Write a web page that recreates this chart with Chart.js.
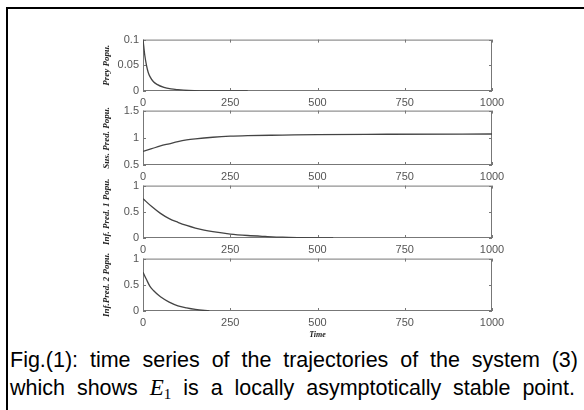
<!DOCTYPE html>
<html>
<head>
<meta charset="utf-8">
<script src="https://cdn.jsdelivr.net/npm/chart.js@4.4.1/dist/chart.umd.min.js"></script>
<style>
body{margin:0;width:584px;height:410px;overflow:hidden;background:#fff;position:relative;font-family:"Liberation Sans",Arial,sans-serif}
#frame{position:absolute;left:6px;top:7px;width:800px;height:600px;border:2px solid #000;box-sizing:border-box}
canvas.plot{position:absolute;left:60px}
.cap{position:absolute;left:10px;font-size:21.5px;line-height:22px;color:#000;white-space:normal;text-align:justify;text-align-last:justify}
#cap1{top:349px;width:568px}
#cap2{top:377px;width:565px}
.e1{font-family:"Liberation Serif","Times New Roman",serif;font-style:italic;font-size:23px}
.e1 sub{font-style:normal;font-size:15px;vertical-align:-4px}
</style>
</head>
<body>
<div id="frame"></div>
<canvas id="c1" class="plot"></canvas>
<canvas id="c2" class="plot"></canvas>
<canvas id="c3" class="plot"></canvas>
<canvas id="c4" class="plot"></canvas>
<div id="cap1" class="cap">Fig.(1): time series of the trajectories of the system (3)</div>
<div id="cap2" class="cap">which shows <span class="e1">E<sub>1</sub></span> is a locally asymptotically stable point.</div>
<script>
// time axis
var timeMin = 0, timeMax = 1000, timeStep = 250;

// prey population
var preyT = [0, 2, 5, 10, 15, 20, 30, 40, 60, 80, 100, 130, 200, 300];
var preyV = [0.1, 0.088, 0.07, 0.05, 0.036, 0.028, 0.018, 0.013, 0.007, 0.004, 0.0025, 0.001, 0, 0];

// susceptible predator
var susT = [0, 25, 50, 75, 100, 125, 150, 200, 250, 300, 400, 500, 700, 1000];
var susV = [0.75, 0.8, 0.85, 0.89, 0.93, 0.96, 0.98, 1.01, 1.03, 1.04, 1.05, 1.06, 1.065, 1.07];

// infected predator 1
var inf1T = [0, 25, 50, 75, 100, 125, 150, 175, 200, 250, 300, 350, 400, 450, 545];
var inf1V = [0.75, 0.6, 0.47, 0.37, 0.3, 0.24, 0.19, 0.15, 0.12, 0.075, 0.048, 0.03, 0.015, 0.008, 0];

// infected predator 2
var inf2T = [0, 10, 20, 30, 50, 75, 100, 125, 150, 190];
var inf2V = [0.74, 0.6, 0.47, 0.39, 0.27, 0.17, 0.1, 0.06, 0.03, 0];

var yLabels = ['Prey Popu.', 'Sus. Pred. Popu.', 'Inf. Pred. 1 Popu.', 'Inf.Pred. 2 Popu.'];
var yMins = [0, 0.5, 0, 0];
var yMaxs = [0.1, 1.5, 1, 1];
var ySteps = [0.05, 0.5, 0.5, 0.5];

// plot box tops/bottoms on the page
var tops = [39, 110, 185, 258];
var bottoms = [91, 165, 238, 311];

var boxPlugin = {
    id: 'box',
    beforeDatasetsDraw: function(chart){
        var ctx = chart.ctx, a = chart.chartArea;
        var xs = chart.scales.x, ys = chart.scales.y;
        ctx.save();
        ctx.strokeStyle = '#777';
        ctx.lineWidth = 1;
        ctx.strokeRect(a.left + 0.5, a.top + 0.5, a.right - a.left - 1, a.bottom - a.top - 1);
        ctx.beginPath();
        xs.ticks.forEach(function(t){
            var px = Math.round(xs.getPixelForValue(t.value)) + 0.5;
            ctx.moveTo(px, a.top); ctx.lineTo(px, a.top + 3);
            ctx.moveTo(px, a.bottom); ctx.lineTo(px, a.bottom - 3);
        });
        ys.ticks.forEach(function(t){
            var py = Math.round(ys.getPixelForValue(t.value)) + 0.5;
            ctx.moveTo(a.left, py); ctx.lineTo(a.left + 3, py);
            ctx.moveTo(a.right, py); ctx.lineTo(a.right - 3, py);
        });
        ctx.stroke();
        ctx.restore();
    }
};

function toPoints(ts, vs){
    var pts = [];
    for (var i = 0; i < ts.length; i++) pts.push({x: ts[i], y: vs[i]});
    return pts;
}

function plainNum(v){
    return String(parseFloat(v.toFixed(3)));
}

var series = [[preyT, preyV], [susT, susV], [inf1T, inf1V], [inf2T, inf2V]];
var labelFont = {family: 'Liberation Serif', size: 9, style: 'italic', weight: 'bold'};
var tickFont = {family: 'Liberation Sans', size: 11};

for (let i = 0; i < 4; i++){
    let canvas = document.getElementById('c' + (i + 1));
    let xH = (i == 3) ? 32 : 20;
    canvas.width = 470;
    canvas.height = (bottoms[i] - tops[i]) + 10 + xH;
    canvas.style.top = (tops[i] - 10) + 'px';
    new Chart(canvas.getContext('2d'), {
        type: 'line',
        data: {
            datasets: [{
                data: toPoints(series[i][0], series[i][1]),
                borderColor: '#444',
                borderWidth: 1.3,
                pointRadius: 0,
                cubicInterpolationMode: 'monotone',
                fill: false
            }]
        },
        options: {
            responsive: false,
            animation: false,
            devicePixelRatio: 1,
            layout: {padding: {left: 0, top: 10, right: 38, bottom: 0}},
            plugins: {legend: {display: false}, tooltip: {enabled: false}},
            scales: {
                x: {
                    type: 'linear', min: timeMin, max: timeMax,
                    ticks: {stepSize: timeStep, padding: 5, color: '#555', maxRotation: 0,
                            font: tickFont, callback: plainNum},
                    grid: {display: false, drawTicks: false},
                    border: {display: false},
                    title: {display: i == 3, text: 'Time', color: '#222',
                            font: {family: 'Liberation Serif', size: 8, style: 'italic', weight: 'bold'},
                            padding: {top: 0, bottom: 3}},
                    afterFit: function(s){ s.height = xH; }
                },
                y: {
                    min: yMins[i], max: yMaxs[i],
                    ticks: {stepSize: ySteps[i], padding: 4, color: '#555',
                            font: tickFont, callback: plainNum},
                    grid: {display: false, drawTicks: false},
                    border: {display: false},
                    title: {display: true, text: yLabels[i], color: '#222', font: labelFont,
                            padding: {top: 41, bottom: 0}},
                    afterFit: function(s){ s.width = 83; }
                }
            }
        },
        plugins: [boxPlugin]
    });
}
</script>
</body>
</html>
